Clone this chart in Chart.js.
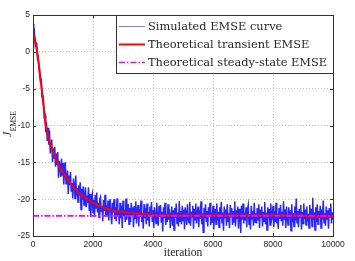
<!DOCTYPE html>
<html>
<head>
<meta charset="utf-8">
<script src="https://cdn.jsdelivr.net/npm/chart.js@4.4.1/dist/chart.umd.min.js"></script>
<style>
  html, body { margin: 0; padding: 0; background: #fff; }
</style>
</head>
<body>
<canvas id="emseChart" width="355" height="261"></canvas>
<script>
/* ---- Values ---- */

const xTicks = [0, 2000, 4000, 6000, 8000, 10000];
const yTicks = [-25, -20, -15, -10, -5, 0, 5];

const seriesLabels = [
  "Simulated EMSE curve",
  "Theoretical transient EMSE",
  "Theoretical steady-state EMSE",
];

// simulated curve, one reading every 25 iterations
const simStep = 25;
const simulatedEmse = [
  3.8, 1.9, 2.5, 0.9, 1.2, 1.1, -0.9, -0.7, -2.2, -2.2,
  -4.1, -3.9, -6.1, -5.9, -6.5, -8.8, -8.6, -10.9, -9.6, -12.1,
  -10.3, -12.6, -10.7, -13.8, -12.4, -11.9, -15.0, -13.1, -14.4, -12.9,
  -15.6, -13.8, -15.3, -13.6, -17.1, -14.8, -15.5, -17.0, -14.5, -16.8,
  -15.1, -18.0, -16.2, -15.0, -17.9, -17.4, -16.1, -19.3, -16.8, -18.1,
  -16.3, -19.0, -17.8, -19.9, -17.2, -17.9, -19.9, -16.8, -19.5, -18.5,
  -20.4, -18.1, -19.5, -17.7, -21.4, -18.6, -20.1, -18.3, -20.8, -19.5,
  -18.4, -21.1, -19.5, -20.5, -18.4, -21.6, -19.3, -22.4, -19.8, -19.3,
  -21.8, -20.1, -22.4, -19.4, -21.2, -19.1, -21.8, -20.5, -22.5, -20.0,
  -19.7, -21.7, -20.9, -23.0, -20.1, -21.6, -19.4, -22.4, -20.8, -22.2,
  -20.2, -22.9, -20.7, -20.0, -22.2, -23.4, -20.5, -21.8, -20.0, -22.7,
  -21.1, -23.0, -19.9, -22.2, -21.5, -23.4, -20.5, -22.6, -20.9, -23.9,
  -20.2, -22.3, -21.4, -23.1, -19.9, -22.8, -21.5, -20.7, -23.4, -21.2,
  -23.1, -20.5, -22.1, -21.1, -23.8, -20.9, -22.6, -20.3, -23.3, -21.6,
  -20.8, -23.7, -21.4, -22.4, -20.2, -23.1, -21.9, -24.0, -20.7, -22.6,
  -21.2, -23.4, -20.6, -22.9, -21.7, -23.7, -21.0, -22.3, -20.4, -23.1,
  -21.5, -23.9, -21.1, -21.8, -23.3, -20.5, -22.6, -23.6, -20.9, -22.4,
  -20.8, -23.2, -21.7, -24.4, -21.1, -22.6, -20.5, -23.5, -22.0, -23.1,
  -20.7, -22.8, -21.3, -23.9, -21.9, -21.0, -23.6, -21.5, -24.2, -21.2,
  -22.5, -20.6, -23.3, -21.8, -23.7, -20.3, -23.0, -21.6, -23.4, -20.9,
  -22.9, -21.4, -24.1, -21.1, -22.0, -23.5, -20.7, -22.6, -23.2, -20.4,
  -23.6, -21.7, -22.4, -20.9, -24.0, -21.3, -22.8, -20.6, -23.3, -22.1,
  -21.0, -23.8, -21.5, -22.7, -20.3, -23.4, -21.9, -24.5, -21.2, -22.6,
  -20.7, -23.1, -21.6, -23.7, -21.1, -22.3, -20.5, -23.5, -21.8, -23.2,
  -20.9, -24.1, -22.0, -21.3, -23.4, -20.6, -22.9, -21.7, -23.8, -21.1,
  -22.7, -20.4, -23.2, -21.8, -24.3, -21.0, -22.5, -21.4, -23.6, -20.7,
  -23.0, -21.9, -23.9, -20.8, -22.4, -21.2, -23.5, -21.6, -23.1, -20.3,
  -23.7, -21.5, -22.6, -21.0, -24.0, -21.3, -22.3, -24.6, -20.9, -22.8,
  -20.6, -23.3, -21.8, -22.9, -21.1, -23.8, -21.4, -20.8, -23.4, -22.0,
  -24.1, -20.9, -22.7, -21.6, -23.6, -20.5, -23.1, -21.9, -23.3, -21.2,
  -22.8, -20.7, -23.9, -21.4, -22.5, -21.0, -23.7, -21.7, -23.0, -20.4,
  -23.4, -21.8, -24.2, -21.1, -22.6, -21.3, -23.5, -20.6, -22.9, -22.4,
  -20.9, -23.8, -21.6, -23.1, -20.5, -23.3, -22.0, -24.0, -21.2, -22.7,
  -20.8, -23.0, -21.7, -23.6, -20.3, -22.8, -21.4, -23.9, -21.0, -22.4,
  -23.5, -21.1, -22.6, -21.5, -24.3, -20.7, -23.1, -21.9, -23.7, -21.0,
  -22.9, -19.9, -23.2, -21.6, -23.8, -21.3, -22.5, -20.8, -24.1, -21.7,
  -23.3, -20.6, -22.7, -21.4, -23.5, -21.0, -23.0, -22.0, -23.9, -20.8,
  -22.6, -21.3, -23.7, -19.8, -22.8, -21.8, -24.2, -21.1, -23.1, -20.7,
  -23.4, -21.6, -22.5, -20.9, -23.9, -21.4, -22.8, -20.2, -23.2, -21.9,
  -23.6, -21.0, -22.7, -21.5, -24.0, -21.2, -22.4, -20.6, -23.3, -21.8, -22.8,
];

// theoretical transient curve
const transientIter = [
  0, 50, 100, 150, 200, 250, 300, 350, 400, 425, 450, 500, 550, 600,
  700, 800, 900, 1000, 1200, 1400, 1600, 1800, 2000, 2250, 2500, 2750,
  3000, 3500, 4000, 4500, 5000, 6000, 7000, 8000, 9000, 9150, 10000,
];
const transientEmse = [
  2.6, 1.9, 0.9, -0.3, -1.9, -3.6, -5.4, -7.3, -9.1, -10.0, -10.5, -11.4, -12.1, -12.8,
  -13.9, -14.9, -15.7, -16.4, -17.6, -18.6, -19.4, -20.0, -20.5, -21.0, -21.35, -21.6,
  -21.75, -21.95, -22.1, -22.15, -22.2, -22.2, -22.2, -22.2, -22.2, -22.35, -22.4,
];

const steadyStateEmse = -22.27;
const iterRange = [0, 10000];

/* ---- Styling ---- */

const frameColor = "#333333";
const tickFont = { family: "'Liberation Sans', Arial, sans-serif", size: 8.5 };
const serif = "'Liberation Serif', 'DejaVu Serif', serif";

const dottedGrid = {
  grid: { color: "#c4c4c4", lineWidth: 1, drawTicks: false },
  border: { display: false, dash: [1, 2] },
};

/* ---- Frame, inward ticks, axis titles and boxed legend ---- */

const matlabFrame = {
  id: "matlabFrame",
  afterDraw(chart) {
    const { ctx, chartArea: a, scales } = chart;
    ctx.save();

    // axes box
    ctx.strokeStyle = frameColor;
    ctx.lineWidth = 1;
    ctx.strokeRect(Math.round(a.left) + 0.5, Math.round(a.top) + 0.5,
      Math.round(a.right - a.left), Math.round(a.bottom - a.top));

    // inward ticks
    ctx.beginPath();
    xTicks.forEach((v) => {
      const px = Math.round(scales.x.getPixelForValue(v)) + 0.5;
      ctx.moveTo(px, a.bottom); ctx.lineTo(px, a.bottom - 3);
      ctx.moveTo(px, a.top); ctx.lineTo(px, a.top + 3);
    });
    yTicks.forEach((v) => {
      const py = Math.round(scales.y.getPixelForValue(v)) + 0.5;
      ctx.moveTo(a.left, py); ctx.lineTo(a.left + 3, py);
      ctx.moveTo(a.right, py); ctx.lineTo(a.right - 3, py);
    });
    ctx.stroke();

    // x title
    ctx.fillStyle = "#262626";
    ctx.font = `11.5px ${serif}`;
    ctx.textAlign = "center";
    ctx.textBaseline = "alphabetic";
    ctx.fillText("iteration", (a.left + a.right) / 2, 256);

    // y title: J with subscript EMSE, rotated
    ctx.save();
    ctx.translate(11, 137);
    ctx.rotate(-Math.PI / 2);
    ctx.textAlign = "left";
    ctx.font = `italic 12px ${serif}`;
    ctx.fillText("J", 0, 0);
    const jw = ctx.measureText("J").width;
    ctx.font = `7.5px ${serif}`;
    ctx.fillText("EMSE", jw + 0.5, 4.5);
    ctx.restore();

    // legend box in the top-right corner
    const box = { left: 116, top: a.top, right: a.right, bottom: 73 };
    ctx.fillStyle = "#ffffff";
    ctx.fillRect(box.left, box.top, box.right - box.left, box.bottom - box.top);
    ctx.strokeStyle = frameColor;
    ctx.strokeRect(box.left + 0.5, Math.round(box.top) + 0.5,
      Math.round(box.right - box.left), box.bottom - Math.round(box.top));

    const rows = [26, 44, 62];
    const samples = [
      { color: "#8080ff", width: 1, dash: [] },
      { color: "#ff0000", width: 2, dash: [] },
      { color: "#ff00ff", width: 1.5, dash: [6, 2, 1.5, 2] },
    ];
    ctx.textAlign = "left";
    ctx.textBaseline = "middle";
    ctx.font = `11.4px 'DejaVu Serif', serif`;
    seriesLabels.forEach((label, i) => {
      const s = samples[i];
      ctx.beginPath();
      ctx.strokeStyle = s.color;
      ctx.lineWidth = s.width;
      ctx.setLineDash(s.dash);
      ctx.moveTo(119, rows[i] + 0.5);
      ctx.lineTo(145, rows[i] + 0.5);
      ctx.stroke();
      ctx.setLineDash([]);
      ctx.fillStyle = "#262626";
      ctx.fillText(label, 148, rows[i] + 1);
    });

    ctx.restore();
  },
};

/* ---- Chart ---- */

new Chart(document.getElementById("emseChart"), {
  type: "line",
  data: {
    datasets: [
      {
        label: seriesLabels[0],
        data: simulatedEmse.map((y, i) => ({ x: i * simStep, y })),
        borderColor: "rgba(0, 0, 255, 0.85)",
        borderWidth: 1.5,
        pointRadius: 0,
        order: 3,
      },
      {
        label: seriesLabels[1],
        data: transientIter.map((x, i) => ({ x, y: transientEmse[i] })),
        borderColor: "#ff0000",
        borderWidth: 2,
        pointRadius: 0,
        cubicInterpolationMode: "monotone",
        order: 2,
      },
      {
        label: seriesLabels[2],
        data: iterRange.map((x) => ({ x, y: steadyStateEmse })),
        borderColor: "#ff00ff",
        borderWidth: 1.6,
        borderDash: [6, 2, 1.5, 2],
        pointRadius: 0,
        order: 1,
      },
    ],
  },
  options: {
    responsive: false,
    animation: false,
    layout: { padding: { top: 15, right: 22, left: 0, bottom: 0 } },
    plugins: {
      legend: { display: false },
      tooltip: { enabled: false },
    },
    scales: {
      x: {
        type: "linear",
        min: iterRange[0],
        max: iterRange[1],
        afterFit: (s) => { s.height = 25; },
        afterBuildTicks: (s) => { s.ticks = xTicks.map((value) => ({ value })); },
        ticks: { font: tickFont, color: "#262626", padding: 4, maxRotation: 0, callback: (v) => String(v) },
        ...dottedGrid,
      },
      y: {
        min: -25,
        max: 5,
        afterFit: (s) => { s.width = 33; },
        afterBuildTicks: (s) => { s.ticks = yTicks.map((value) => ({ value })); },
        ticks: { font: tickFont, color: "#262626", padding: 3, callback: (v) => String(v) },
        ...dottedGrid,
      },
    },
  },
  plugins: [matlabFrame],
});
</script>
</body>
</html>
